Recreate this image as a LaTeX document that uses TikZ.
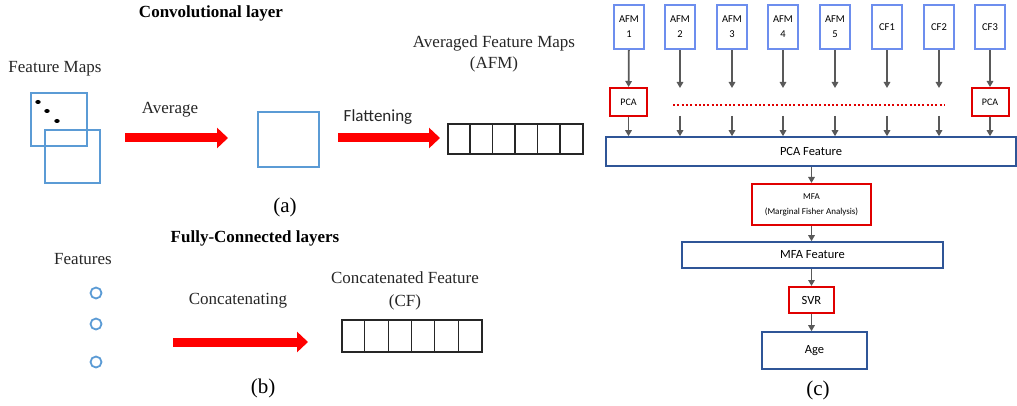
\documentclass[tikz,border=0pt]{standalone}
\usepackage{fontspec}
\setmainfont{Liberation Serif}
\newfontfamily\carl{Carlito}
\usetikzlibrary{arrows.meta,calc}
\definecolor{lblue}{HTML}{5B9BD5}
\definecolor{tblue}{HTML}{6D8EEE}
\definecolor{dblue}{HTML}{2F5597}
\definecolor{bred}{HTML}{E00000}
\definecolor{agray}{HTML}{595959}
\definecolor{txt}{HTML}{262626}
\tikzset{
  fmbox/.style={draw=lblue, line width=1.5pt, inner sep=0pt},
  lbl/.style={text=txt, inner sep=0pt, font=\fontsize{17}{20}\selectfont},
  ttl/.style={text=black, inner sep=0pt, font=\fontsize{17}{20}\selectfont\bfseries},
  subcap/.style={text=black, inner sep=0pt, font=\fontsize{21}{24}\selectfont},
  bigarrow/.style={draw=red, line width=9pt, -{Triangle[length=11pt,width=20pt]}},
  cell/.style={draw=black!85, line width=1.1pt, inner sep=0pt},
  fc/.style={draw=lblue, line width=1.8pt, circle, minimum size=11pt, inner sep=0pt},
  topbox/.style={draw=tblue, line width=2.2pt, minimum width=30pt, minimum height=44pt, inner sep=0pt, align=center, font=\carl\fontsize{10.5}{15}\selectfont, text=black},
  redbox/.style={draw=bred, line width=2pt, inner sep=0pt, align=center, font=\carl, text=black},
  bluebox/.style={draw=dblue, line width=1.6pt, inner sep=0pt, font=\carl\fontsize{12.5}{15}\selectfont, text=black},
  flow/.style={draw=agray, line width=1.8pt, -{Triangle[length=6pt,width=6.5pt]}},
}
\begin{document}
\begin{tikzpicture}[x=1pt,y=-1pt]
\useasboundingbox (0,0) rectangle (1017,406);

% ---------- (a) Convolutional layer ----------
\node[ttl] (convt) at (211,13) {Convolutional layer};
\node[lbl] (fmlab) at (55,69) {Feature Maps};
\node[fmbox, minimum width=56pt, minimum height=53pt] (fm1) at (59,119.5) {};
\node[fmbox, minimum width=55pt, minimum height=53pt] (fm2) at (72.5,156.5) {};
\fill[black] (38,102) ellipse (2.7pt and 2pt);
\fill[black] (47,111) ellipse (2.7pt and 2pt);
\fill[black] (57,121) ellipse (2.7pt and 2pt);
\node[lbl] (avglab) at (170,110) {Average};
\coordinate (a1s) at (125,138);
\coordinate (a1e) at (228,138);
\draw[bigarrow] (a1s) -- (a1e);
\node[fmbox, minimum width=61pt, minimum height=55pt] (avgbox) at (288.5,139.5) {};
\node[lbl, font=\carl\fontsize{17}{20}\selectfont] (flat) at (378,117) {Flattening};
\coordinate (a2s) at (338,138);
\coordinate (a2e) at (440,138);
\draw[bigarrow] (a2s) -- (a2e);
\node[lbl] (afmlab) at (494,43) {Averaged Feature Maps};
\node[lbl] (afmlab2) at (494,64) {(AFM)};
\node[cell, minimum width=135pt, minimum height=30pt] (afmgrid) at (515.5,139) {};
\foreach \i in {1,...,5} \draw[black!85, line width=1.1pt] ($(afmgrid.north west)+(22.5*\i,0)$) -- ($(afmgrid.south west)+(22.5*\i,0)$);
\node[subcap] (capa) at (285,207) {(a)};

% ---------- (b) Fully-connected layers ----------
\node[ttl] (fct) at (255,238) {Fully-Connected layers};
\node[lbl] (featlab) at (83,259) {Features};
\node[fc] (c1) at (96,293) {};
\node[fc] (c2) at (96,324) {};
\node[fc] (c3) at (96,362) {};
\node[lbl] (conclab) at (238,301) {Concatenating};
\coordinate (a3s) at (173,342);
\coordinate (a3e) at (308,342);
\draw[bigarrow] (a3s) -- (a3e);
\node[lbl] (cflab) at (405,278) {Concatenated Feature};
\node[lbl] (cflab2) at (405,302) {(CF)};
\node[cell, minimum width=140pt, minimum height=32pt] (cfgrid) at (412,336) {};
\foreach \i in {1,...,5} \draw[black!85, line width=1.1pt] ($(cfgrid.north west)+(23.33*\i,0)$) -- ($(cfgrid.south west)+(23.33*\i,0)$);
\node[subcap] (capb) at (263,388) {(b)};

% ---------- (c) pipeline ----------
\node[topbox] (t1) at (629,27) {AFM\\1};
\node[topbox] (t2) at (680,27) {AFM\\2};
\node[topbox] (t3) at (732,27) {AFM\\3};
\node[topbox] (t4) at (783,27) {AFM\\4};
\node[topbox] (t5) at (835,27) {AFM\\5};
\node[topbox] (t6) at (887,27) {CF1};
\node[topbox] (t7) at (939,27) {CF2};
\node[topbox] (t8) at (990,27) {CF3};

\node[redbox, minimum width=37pt, minimum height=28pt, font=\carl\fontsize{10}{11}\selectfont] (p1) at (628.5,102) {PCA};
\node[redbox, minimum width=37pt, minimum height=28pt, font=\carl\fontsize{10}{11}\selectfont] (p8) at (990,102) {PCA};
\draw[bred, line width=2pt, dash pattern=on 2pt off 2.3pt] (673,105) -- (945,105);

\node[bluebox, minimum width=410pt, minimum height=29pt] (pcaf) at (811,151.5) {PCA Feature};

\draw[flow] (t1) -- (p1);
\draw[flow] (t8) -- (p8);
\draw[flow] (p1) -- (p1 |- pcaf.north);
\draw[flow] (p8) -- (p8 |- pcaf.north);
\foreach \k/\x in {2/680,3/732,4/783,5/835,6/887,7/939} {
  \coordinate (u\k) at (\x,88);
  \coordinate (d\k) at (\x,116);
  \draw[flow] (t\k) -- (u\k);
  \draw[flow] (d\k) -- (d\k |- pcaf.north);
}

\node[redbox, minimum width=119pt, minimum height=41pt, font=\carl\fontsize{9}{15}\selectfont] (mfa) at (811.5,204.5) {MFA\\(Marginal Fisher Analysis)};
\node[bluebox, minimum width=261pt, minimum height=26pt] (mfaf) at (812.5,255) {MFA Feature};
\node[redbox, minimum width=45pt, minimum height=26pt, font=\carl\fontsize{12.5}{15}\selectfont] (svr) at (811.5,300) {SVR};
\node[bluebox, minimum width=105pt, minimum height=37pt] (age) at (814.5,350.5) {Age};

\draw[flow] (pcaf.south -| mfa) -- (mfa.north);
\draw[flow] (mfa.south) -- (mfa.south |- mfaf.north);
\draw[flow] (mfaf.south -| svr) -- (svr.north);
\draw[flow] (svr.south) -- (svr.south |- age.north);
\node[subcap] (capc) at (818,390) {(c)};
\end{tikzpicture}
\end{document}
